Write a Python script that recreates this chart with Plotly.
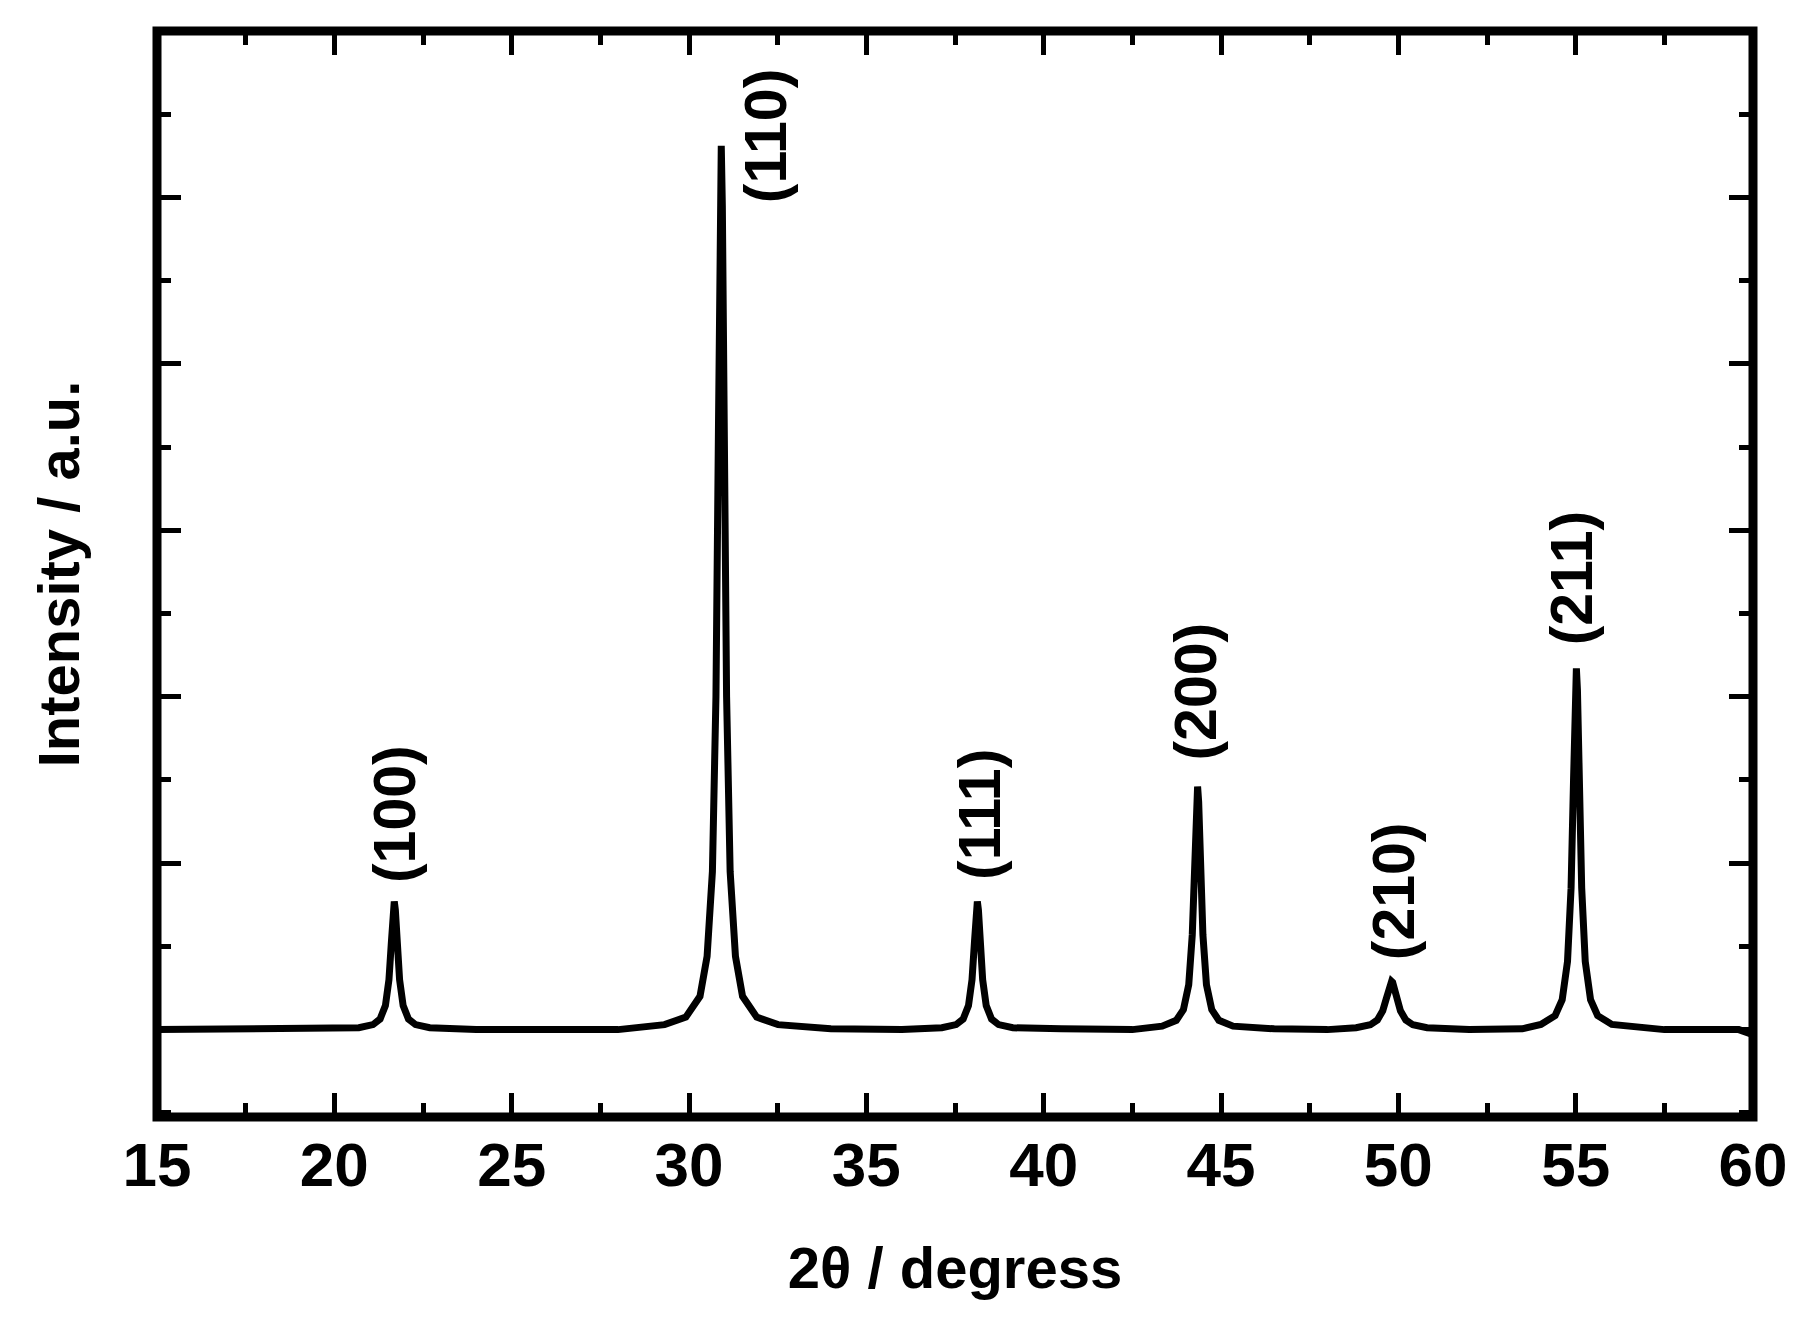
import plotly.graph_objects as go

# ---- data ----
seg_start_x = [15.0, 16.5, 18.0, 19.5]
seg_start_y = [0.0, 0.005, 0.0, 0.005]

p100_x = [20.69, 21.09, 21.29, 21.44, 21.54, 21.61, 21.66, 21.69, 21.72, 21.77, 21.84, 21.94, 22.09, 22.29, 22.69]
p100_y = [0.011, 0.030, 0.064, 0.144, 0.30, 0.53, 0.72, 0.77, 0.72, 0.53, 0.30, 0.144, 0.064, 0.030, 0.011]

gap1_x = [24.0, 26.0, 28.0]
gap1_y = [0.0, 0.005, 0.0]

p110_x = [29.31, 29.91, 30.31, 30.51, 30.66, 30.76, 30.83, 30.88, 30.91, 30.94, 30.99, 31.06, 31.16, 31.31, 31.51, 31.91, 32.51]
p110_y = [0.03, 0.075, 0.20, 0.44, 0.95, 2.0, 3.6, 4.95, 5.31, 4.95, 3.6, 2.0, 0.95, 0.44, 0.20, 0.075, 0.03]

gap2_x = [34.0, 36.0]
gap2_y = [0.005, 0.0]

p111_x = [37.13, 37.53, 37.73, 37.88, 37.98, 38.05, 38.10, 38.13, 38.16, 38.21, 38.28, 38.38, 38.53, 38.73, 39.13]
p111_y = [0.011, 0.030, 0.064, 0.144, 0.30, 0.53, 0.72, 0.77, 0.72, 0.53, 0.30, 0.144, 0.064, 0.030, 0.011]

gap3_x = [40.5, 42.5]
gap3_y = [0.005, 0.0]

p200_x = [43.34, 43.74, 43.94, 44.09, 44.19, 44.26, 44.31, 44.34, 44.37, 44.42, 44.49, 44.59, 44.74, 44.94, 45.34]
p200_y = [0.021, 0.056, 0.12, 0.27, 0.57, 1.01, 1.37, 1.46, 1.37, 1.01, 0.57, 0.27, 0.12, 0.056, 0.021]

gap4_x = [46.5, 48.0]
gap4_y = [0.005, 0.0]

p210_x = [48.81, 49.21, 49.41, 49.56, 49.66, 49.73, 49.78, 49.81, 49.84, 49.89, 49.96, 50.06, 50.21, 50.41, 50.81]
p210_y = [0.011, 0.029, 0.058, 0.113, 0.186, 0.25, 0.284, 0.29, 0.284, 0.25, 0.186, 0.113, 0.058, 0.029, 0.011]

gap5_x = [52.0, 53.5]
gap5_y = [0.0, 0.005]

p211_x = [54.02, 54.42, 54.62, 54.77, 54.87, 54.94, 54.99, 55.02, 55.05, 55.10, 55.17, 55.27, 55.42, 55.62, 56.02]
p211_y = [0.031, 0.084, 0.18, 0.41, 0.85, 1.50, 2.04, 2.17, 2.04, 1.50, 0.85, 0.41, 0.18, 0.084, 0.031]

seg_end_x = [57.5, 59.0, 59.6, 60.0]
seg_end_y = [0.0, 0.005, 0.0, -0.03]

peak_labels = ["(100)", "(110)", "(111)", "(200)", "(210)", "(211)"]
label_x = [21.71, 32.18, 38.20, 44.29, 49.90, 54.89]
label_y = [1.295, 5.37, 1.295, 2.03, 0.83, 2.71]

x_tickvals = [15, 20, 25, 30, 35, 40, 45, 50, 55, 60]
x_ticktext = ["15", "20", "25", "30", "35", "40", "45", "50", "55", "60"]

two_theta = (seg_start_x + p100_x + gap1_x + p110_x + gap2_x + p111_x + gap3_x
             + p200_x + gap4_x + p210_x + gap5_x + p211_x + seg_end_x)
intensity = (seg_start_y + p100_y + gap1_y + p110_y + gap2_y + p111_y + gap3_y
             + p200_y + gap4_y + p210_y + gap5_y + p211_y + seg_end_y)

FONT = "Liberation Sans, Arial, sans-serif"

fig = go.Figure()
fig.add_trace(go.Scatter(x=two_theta, y=intensity, mode="lines",
                         line=dict(color="black", width=7), showlegend=False,
                         hoverinfo="skip"))

for t, lx, ly in zip(peak_labels, label_x, label_y):
    fig.add_annotation(x=lx, y=ly, text=t, textangle=-90, showarrow=False,
                       font=dict(family=FONT, size=59, color="black", weight="bold"),
                       xanchor="center", yanchor="middle")

# plot frame, centred on the plot-area edge
fig.add_shape(type="rect", xref="paper", yref="paper", x0=0, x1=1, y0=0, y1=1,
              line=dict(color="black", width=9), layer="above")

axis_common = dict(showline=False, mirror="ticks", ticks="inside", tickcolor="black",
                   tickwidth=5, showgrid=False, zeroline=False)

fig.update_xaxes(range=[15, 60], tickvals=x_tickvals, ticktext=x_ticktext, ticklen=24,
                 minor=dict(dtick=2.5, tick0=15, ticks="inside", ticklen=14, tickwidth=5,
                            tickcolor="black", showgrid=False),
                 tickfont=dict(family=FONT, size=62, color="black", weight="bold"),
                 ticklabelstandoff=6,
                 title=dict(text="2θ / degress", standoff=49,
                            font=dict(family=FONT, size=58, color="black", weight="bold")),
                 **axis_common)
fig.update_yaxes(range=[-0.525, 6.0], dtick=1, tick0=0, ticklen=24, showticklabels=False,
                 minor=dict(dtick=0.5, tick0=0, ticks="inside", ticklen=14, tickwidth=5,
                            tickcolor="black", showgrid=False),
                 title=dict(text="Intensity / a.u.", standoff=57,
                            font=dict(family=FONT, size=58, color="black", weight="bold")),
                 **axis_common)

# the page body adds an 8 px margin, so the figure is 16 px smaller than the window
fig.update_layout(width=1793, height=1319, paper_bgcolor="white", plot_bgcolor="white",
                  margin=dict(l=149, r=48, t=23, b=210, autoexpand=False))

fig.write_html("out.html")
